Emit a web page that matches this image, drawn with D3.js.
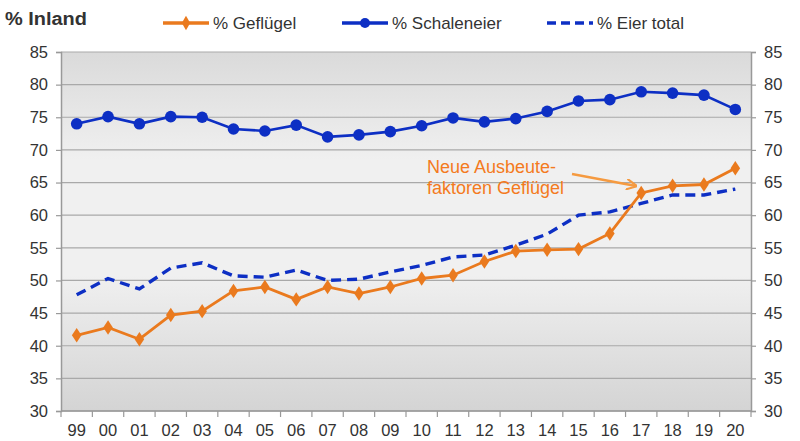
<!DOCTYPE html>
<html><head><meta charset="utf-8">
<script src="https://cdn.jsdelivr.net/npm/d3@7"></script>
<style>body{margin:0;background:#fff}svg{display:block}</style>
</head><body>
<svg id="c" width="800" height="441"></svg>
<script>
const years = ["99","00","01","02","03","04","05","06","07","08","09","10","11","12","13","14","15","16","17","18","19","20"];
const gefluegel = [41.6,42.8,41.0,44.7,45.3,48.4,49.0,47.1,49.0,48.0,49.0,50.3,50.8,52.9,54.5,54.7,54.8,57.2,63.4,64.5,64.7,67.2];
const schaleneier = [74.0,75.1,74.0,75.1,75.0,73.2,72.9,73.8,72.0,72.3,72.8,73.7,74.9,74.3,74.8,75.9,77.5,77.7,78.9,78.7,78.4,76.2];
const eierTotal = [47.8,50.3,48.7,51.9,52.7,50.7,50.5,51.6,50.0,50.2,51.3,52.3,53.6,53.9,55.4,57.1,60.0,60.5,61.8,63.1,63.1,64.0];
const yTicks = [30,35,40,45,50,55,60,65,70,75,80,85];
const seriesNames = ["% Geflügel","% Schaleneier","% Eier total"];
const annotationLines = ["Neue Ausbeute-","faktoren Geflügel"];

const ORANGE = "#ea7a1e", BLUE = "#0d2fc4";
const svg = d3.select("#c");
const L = 61, R = 751, T = 52, B = 411;
const x = d3.scaleBand().domain(years).range([L, R]);
const y = d3.scaleLinear().domain([30, 85]).range([B, T]);
const cx = d => x(d) + x.bandwidth() / 2;

const defs = svg.append("defs");
const g = defs.append("linearGradient").attr("id","bg").attr("x1",0).attr("y1",0).attr("x2",0).attr("y2",1);
g.append("stop").attr("offset","0%").attr("stop-color","#dadada");
g.append("stop").attr("offset","30%").attr("stop-color","#f0f0f0");
g.append("stop").attr("offset","62%").attr("stop-color","#f0f0f0");
g.append("stop").attr("offset","100%").attr("stop-color","#d4d4d4");
svg.append("rect").attr("x",L).attr("y",T).attr("width",R-L).attr("height",B-T).attr("fill","url(#bg)");

svg.append("g").selectAll("line").data(yTicks).join("line")
  .attr("x1",L).attr("x2",R).attr("y1",d=>y(d)).attr("y2",d=>y(d))
  .attr("stroke","#a9a9a9").attr("stroke-width",1.2);

const tickFont = "'Liberation Sans', Arial, sans-serif";
const la = svg.append("g").attr("transform",`translate(${L},0)`)
  .call(d3.axisLeft(y).tickValues(yTicks).tickSize(5).tickPadding(8));
const ra = svg.append("g").attr("transform",`translate(${R},0)`)
  .call(d3.axisRight(y).tickValues(yTicks).tickSize(5).tickPadding(8));
const ba = svg.append("g").attr("transform",`translate(0,${B})`)
  .call(d3.axisBottom(x).tickSize(0).tickPadding(13));
ba.selectAll(".tick").append("line").attr("x1",-x.bandwidth()/2).attr("x2",-x.bandwidth()/2).attr("y2",6);
ba.select(".tick:last-of-type").append("line").attr("x1",x.bandwidth()/2).attr("x2",x.bandwidth()/2).attr("y2",6);
[la,ra,ba].forEach(a=>{
  a.select(".domain").attr("stroke","#999").attr("stroke-width",1.5);
  a.selectAll("line").attr("stroke","#999").attr("stroke-width",1.2);
  a.selectAll("text").attr("font-family",tickFont).attr("font-size",16.5).attr("fill","#333");
});
ba.select(".domain").attr("d",`M${L},0H${R}`);

const line = arr => d3.line().x((d,i)=>cx(years[i])).y(d=>y(d))(arr);
svg.append("path").attr("d",line(eierTotal)).attr("fill","none").attr("stroke",BLUE)
  .attr("stroke-width",3.4).attr("stroke-dasharray","10,6");
svg.append("path").attr("d",line(gefluegel)).attr("fill","none").attr("stroke",ORANGE).attr("stroke-width",2.8);
svg.append("path").attr("d",line(schaleneier)).attr("fill","none").attr("stroke",BLUE).attr("stroke-width",2.6);

const diamond = d3.symbol().type(d3.symbolDiamond).size(60);
svg.append("g").selectAll("path").data(gefluegel).join("path")
  .attr("d",diamond).attr("transform",(d,i)=>`translate(${cx(years[i])},${y(d)}) scale(1.15,1)`).attr("fill",ORANGE);
svg.append("g").selectAll("circle").data(schaleneier).join("circle")
  .attr("cx",(d,i)=>cx(years[i])).attr("cy",d=>y(d)).attr("r",5.8).attr("fill",BLUE);

svg.append("text").attr("x",5).attr("y",25).text("% Inland")
  .attr("font-family",tickFont).attr("font-weight","bold").attr("font-size",18).attr("fill","#333")
  .attr("textLength",82).attr("lengthAdjust","spacingAndGlyphs");

const leg = [{x:163,c:ORANGE,dash:null,m:"d"},{x:342,c:BLUE,dash:null,m:"c"},{x:547,c:BLUE,dash:"9,5",m:null}];
leg.forEach((l,i)=>{
  const lg = svg.append("g");
  lg.append("line").attr("x1",l.x).attr("x2",l.x+46).attr("y1",23).attr("y2",23).attr("stroke",l.c)
    .attr("stroke-width",l.dash?3.6:3.4).attr("stroke-dasharray",l.dash);
  if(l.m==="d") lg.append("path").attr("d",diamond).attr("transform",`translate(${l.x+23},23)`).attr("fill",l.c);
  if(l.m==="c") lg.append("circle").attr("cx",l.x+23).attr("cy",23).attr("r",5).attr("fill",l.c);
  lg.append("text").attr("x",l.x+50).attr("y",29).text(seriesNames[i])
    .attr("font-family",tickFont).attr("font-size",17).attr("fill","#333");
});

svg.append("g").selectAll("text").data(annotationLines).join("text")
  .attr("x",427).attr("y",(d,i)=>173+i*20.5).text(d=>d)
  .attr("font-family",tickFont).attr("font-size",18).attr("fill","#f47a20");
defs.append("marker").attr("id","ah").attr("viewBox","0 0 10 10").attr("refX",9).attr("refY",5)
  .attr("markerWidth",4.5).attr("markerHeight",4.5).attr("orient","auto").attr("markerUnits","strokeWidth")
  .append("path").attr("d","M0,0 L10,5 L0,10").attr("fill","none").attr("stroke","#f59a40").attr("stroke-width",2);
svg.append("line").attr("x1",572).attr("y1",174).attr("x2",636).attr("y2",186)
  .attr("stroke","#f59a40").attr("stroke-width",2.4).attr("marker-end","url(#ah)");
</script>
</body></html>
